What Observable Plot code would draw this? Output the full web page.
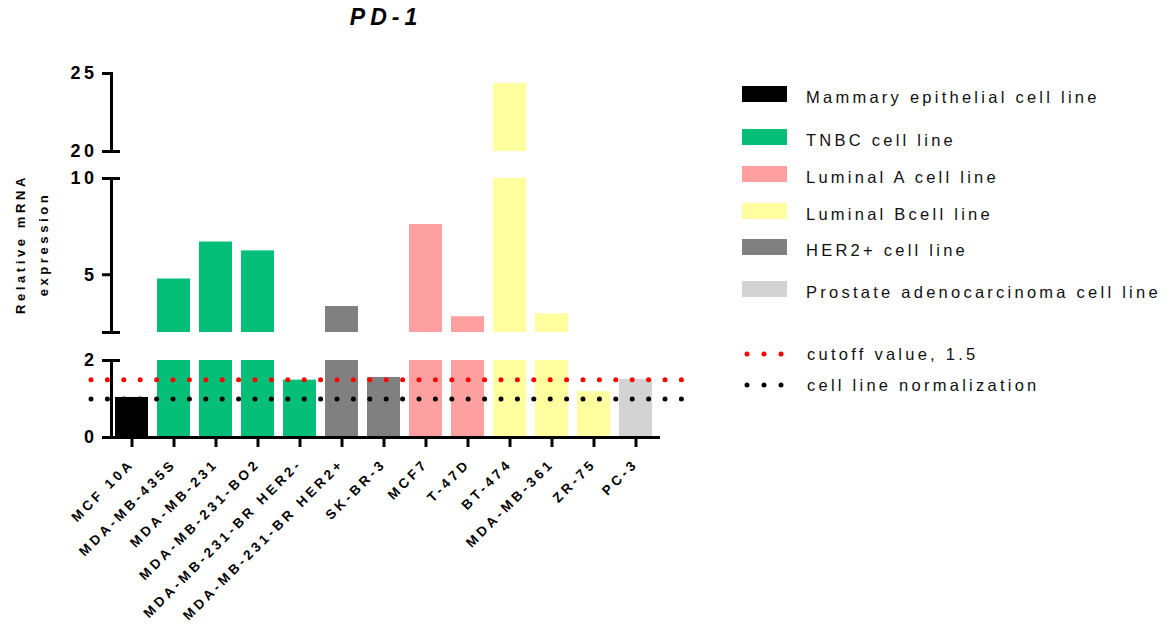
<!DOCTYPE html>
<html><head><meta charset="utf-8">
<script src="https://cdn.jsdelivr.net/npm/d3@7"></script>
<script src="https://cdn.jsdelivr.net/npm/@observablehq/plot@0.6"></script>
<style>
body{margin:0;background:#fff;font-family:"Liberation Sans",Arial,sans-serif;}
#root{position:relative;width:1169px;height:626px;overflow:hidden;background:#fff;}
.seg{position:absolute;left:0;}
.seg svg{background:transparent;overflow:visible;}
g[aria-label="y-axis tick label"] text{letter-spacing:3.5px;}
g[aria-label="x-axis tick label"] text{letter-spacing:3.5px;}
#title{position:absolute;left:0;width:772px;top:4px;text-align:center;font:italic bold 23px "Liberation Sans",Arial,sans-serif;letter-spacing:5px;color:#000;}
.ylab{position:absolute;font:bold 13px "Liberation Sans",Arial,sans-serif;letter-spacing:3.6px;white-space:nowrap;transform:translate(-50%,-50%) rotate(-90deg);color:#000;}
.lg-sw{position:absolute;left:742px;width:45px;height:16px;}
.lg-tx{position:absolute;left:806px;font:16.5px "Liberation Sans",Arial,sans-serif;letter-spacing:3.25px;white-space:nowrap;color:#111;transform:translateY(-50%);}
.lg-dot{position:absolute;width:5px;height:5px;border-radius:50%;transform:translate(-50%,-50%);}
</style></head><body><div id="root"><div id="title">PD-1</div></div>
<script>
// ---- data ----
const cellLines = ["MCF 10A","MDA-MB-435S","MDA-MB-231","MDA-MB-231-BO2","MDA-MB-231-BR HER2-","MDA-MB-231-BR HER2+","SK-BR-3","MCF7","T-47D","BT-474","MDA-MB-361","ZR-75","PC-3"];
const cellGroups = ["Mammary epithelial cell line","TNBC cell line","TNBC cell line","TNBC cell line","TNBC cell line","HER2+ cell line","HER2+ cell line","Luminal A cell line","Luminal A cell line","Luminal Bcell line","Luminal Bcell line","Luminal Bcell line","Prostate adenocarcinoma cell line"];
const expression = [1.04, 4.78, 6.70, 6.24, 1.49, 3.35, 1.56, 7.61, 2.82, 24.36, 2.97, 1.19, 1.51];
const groupNames = ["Mammary epithelial cell line","TNBC cell line","Luminal A cell line","Luminal Bcell line","HER2+ cell line","Prostate adenocarcinoma cell line"];
const groupColors = ["#000000","#05be78","#ffa0a0","#ffffa0","#808080","#d3d3d3"];
const cutoffValue = 1.5;
const normalizationValue = 1;
const refLines = [{label:"cutoff value, 1.5", value: cutoffValue, color:"#ff0000"},{label:"cell line normalization", value: normalizationValue, color:"#000000"}];
const yTicksTop = [20, 25], yTicksMid = [5, 10], yTicksBottom = [0, 2];
const yTitle = ["Relative mRNA", "expression"];

const data = cellLines.map((name, i) => ({name, group: cellGroups[i], value: expression[i]}));

// segments of the broken y axis
const segments = [
  {lo: 20, hi: 25, top: 60,  height: 100, mt: 13, mb: 9,   ticks: yTicksTop,    caps: [20]},
  {lo: 2,  hi: 10, top: 165, height: 180, mt: 13, mb: 13,  ticks: yTicksMid,    caps: [2, 10]},
  {lo: 0,  hi: 2,  top: 347, height: 279, mt: 13, mb: 189, ticks: yTicksBottom, caps: [2], bottom: true}
];

const root = document.getElementById("root");
const font = "'Liberation Sans', Arial, sans-serif";

for (const seg of segments) {
  const bars = data.filter(d => d.value > seg.lo);
  const marks = [
    Plot.barY(bars, {x: "name", y1: () => seg.lo, y2: d => Math.min(d.value, seg.hi), fill: "group"})
  ];
  if (seg.bottom) {
    for (const r of refLines) {
      marks.push(Plot.ruleY([r.value], {stroke: r.color, strokeWidth: 5, strokeDasharray: "0 16.4", strokeLinecap: "round", insetLeft: -20, insetRight: -27}));
    }
    marks.push(Plot.ruleY([0], {strokeWidth: 3, insetLeft: -9, insetRight: -3}));
    marks.push(Plot.axisX({tickRotate: -45, tickSize: 10, tickPadding: 14, strokeWidth: 3, fontSize: 13.5, fontWeight: "bold", fontFamily: font, fill: "#000", label: null}));
  }
  marks.push(Plot.frame({anchor: "left", strokeWidth: 3, strokeLinecap: "square"}));
  marks.push(Plot.axisY(seg.ticks, {tickSize: 9, tickPadding: 5, strokeWidth: 3, fontSize: 18, fontWeight: "bold", fontFamily: font, fill: "#000", label: null}));
  marks.push(Plot.axisY(seg.caps, {tickSize: 9, strokeWidth: 3, tickFormat: () => "", label: null}));
  marks.push(Plot.axisY(seg.caps, {tickSize: 9, dx: 9, strokeWidth: 3, tickFormat: () => "", label: null}));

  const chart = Plot.plot({
    width: 1169, height: seg.height,
    marginLeft: 111, marginRight: 512, marginTop: seg.mt, marginBottom: seg.mb,
    x: {type: "band", domain: cellLines, paddingInner: 0.21, paddingOuter: 0.105, label: null, ...(seg.bottom ? {} : {axis: null})},
    y: {domain: [seg.lo, seg.hi], label: null},
    color: {domain: groupNames, range: groupColors},
    style: {background: "transparent", overflow: "visible", fontFamily: font},
    marks
  });
  const div = document.createElement("div");
  div.className = "seg";
  div.style.top = seg.top + "px";
  div.appendChild(chart);
  root.appendChild(div);
}

// y axis title
[[20, yTitle[0]], [43, yTitle[1]]].forEach(([x, t]) => {
  const d = document.createElement("div");
  d.className = "ylab"; d.textContent = t;
  d.style.left = x + "px"; d.style.top = "244px";
  root.appendChild(d);
});

// legend
const swY = [94, 137, 174, 210.5, 247, 289];
groupNames.forEach((g, i) => {
  const s = document.createElement("div");
  s.className = "lg-sw"; s.style.top = (swY[i] - 8) + "px"; s.style.background = groupColors[i];
  root.appendChild(s);
  const t = document.createElement("div");
  t.className = "lg-tx"; t.textContent = g; t.style.top = (swY[i] + 3) + "px";
  root.appendChild(t);
});
const lineY = [354, 385];
refLines.forEach((r, i) => {
  [747, 764, 781].forEach(x => {
    const d = document.createElement("div");
    d.className = "lg-dot"; d.style.left = x + "px"; d.style.top = lineY[i] + "px"; d.style.background = r.color;
    root.appendChild(d);
  });
  const t = document.createElement("div");
  t.className = "lg-tx"; t.textContent = r.label; t.style.left = "807px"; t.style.top = lineY[i] + "px";
  root.appendChild(t);
});
</script></body></html>
